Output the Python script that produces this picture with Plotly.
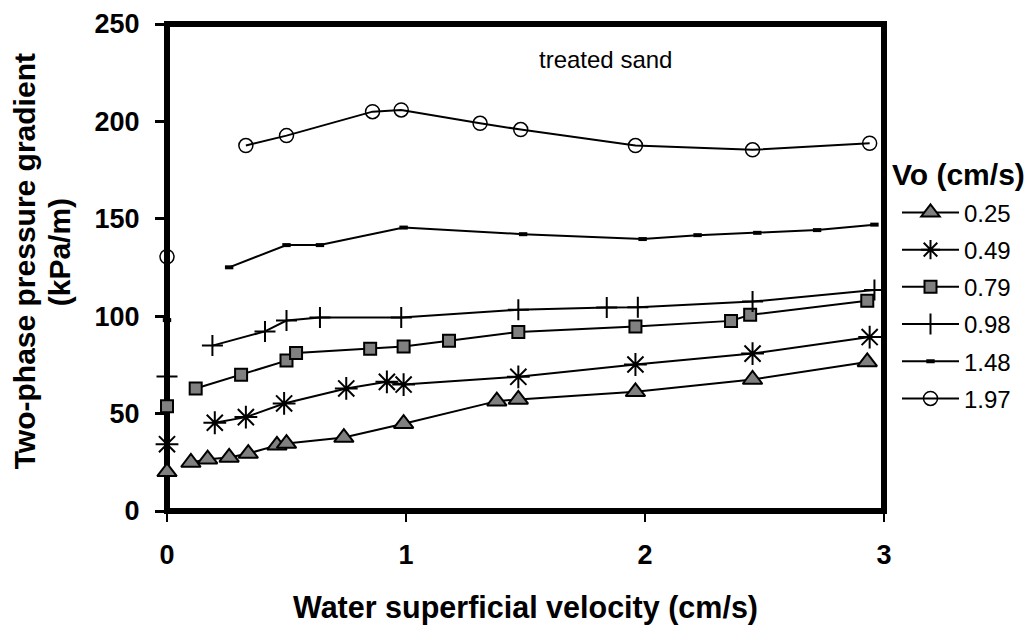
import plotly.graph_objects as go

# ---------------- data ----------------
vo_labels = ["0.25", "0.49", "0.79", "0.98", "1.48", "1.97"]

# value at zero water velocity (plotted unconnected)
y_at_zero = [20.1, 34.3, 53.8, 69.0, 98.0, 130.5]

x_025 = [0.10, 0.17, 0.26, 0.34, 0.46, 0.50, 0.74, 0.99, 1.38, 1.47, 1.96, 2.45, 2.93]
y_025 = [24.9, 26.6, 27.5, 29.5, 33.7, 34.6, 37.7, 44.8, 56.4, 57.3, 61.2, 67.5, 76.5]

x_049 = [0.20, 0.33, 0.49, 0.75, 0.92, 0.99, 1.47, 1.96, 2.45, 2.94]
y_049 = [45.3, 48.2, 55.2, 62.9, 66.3, 64.9, 68.9, 75.2, 80.8, 89.3]

x_079 = [0.12, 0.31, 0.50, 0.54, 0.85, 0.99, 1.18, 1.47, 1.96, 2.36, 2.44, 2.93]
y_079 = [62.9, 70.0, 77.2, 81.1, 83.3, 84.5, 87.4, 91.9, 94.7, 97.6, 100.7, 107.9]

x_098 = [0.19, 0.41, 0.50, 0.64, 0.98, 1.47, 1.84, 1.97, 2.45, 2.96]
y_098 = [84.9, 92.2, 97.8, 99.3, 99.3, 103.3, 104.5, 104.6, 107.5, 113.5]

x_148 = [0.26, 0.50, 0.64, 0.99, 1.49, 1.99, 2.22, 2.47, 2.72, 2.96]
y_148 = [125.1, 136.5, 136.5, 145.5, 142.1, 139.6, 141.6, 142.8, 144.2, 147.0]

x_197 = [0.33, 0.50, 0.86, 0.98, 1.31, 1.48, 1.96, 2.45, 2.94]
y_197 = [187.6, 192.7, 205.0, 205.9, 199.0, 195.8, 187.6, 185.4, 188.8]

x_ticks = [0, 1, 2, 3]
y_ticks = [0, 50, 100, 150, 200, 250]

series_x = [x_025, x_049, x_079, x_098, x_148, x_197]
series_y = [y_025, y_049, y_079, y_098, y_148, y_197]

# ---------------- styles ----------------
FONT = "Liberation Sans, Arial, sans-serif"
marker_styles = [
    dict(symbol="triangle-up", size=17, color="#808080", line=dict(color="black", width=2)),
    dict(symbol="asterisk-open", size=19, color="black", line=dict(color="black", width=2)),
    dict(symbol="square", size=12, color="#808080", line=dict(color="black", width=2)),
    dict(symbol="cross-thin-open", size=15, color="black", line=dict(color="black", width=2)),
    dict(symbol="line-ew-open", size=6, color="black", line=dict(color="black", width=4)),
    dict(symbol="circle-open", size=14, color="black", line=dict(color="black", width=1.5)),
]

fig = go.Figure()
for i, lab in enumerate(vo_labels):
    xs = [0, None] + series_x[i]
    ys = [y_at_zero[i], None] + series_y[i]
    fig.add_trace(go.Scatter(
        x=xs, y=ys, mode="lines+markers", name=lab,
        legendgroup=lab,
        line=dict(color="black", width=2),
        marker=marker_styles[i],
        connectgaps=False,
        cliponaxis=False,
    ))

# geometry in page pixels (the html body adds an 8px margin)
OFF = 8
L, R, T, B = 167, 884, 23.5, 511
W, H = 1032, 629
pw, ph = R - L, B - T

def px_x(px):
    return (px - L) / pw

def px_y(py):
    return (B - py) / ph

fig.update_layout(
    width=W - OFF, height=H - OFF, autosize=False,
    margin=dict(l=L - OFF, r=W - R, t=T - OFF, b=H - B, pad=0, autoexpand=False),
    paper_bgcolor="white", plot_bgcolor="white",
    font=dict(family=FONT, color="black"),
    showlegend=True,
    legend=dict(
        x=px_x(897), y=px_y(190), xanchor="left", yanchor="top",
        font=dict(size=24, family=FONT),
        bgcolor="rgba(0,0,0,0)",
        tracegroupgap=3,
        itemwidth=57,
        traceorder="grouped",
    ),
    xaxis=dict(
        range=[0, 3], tickvals=x_ticks, ticktext=[str(v) for v in x_ticks],
        showline=False, showgrid=False, zeroline=False, automargin=False,
        ticks="outside", ticklen=10, tickwidth=2, tickcolor="black",
        tickfont=dict(size=27, weight="bold", family=FONT),
        ticklabelstandoff=10,
    ),
    yaxis=dict(
        range=[0, 250], tickvals=y_ticks, ticktext=[str(v) for v in y_ticks],
        showline=False, showgrid=False, zeroline=False, automargin=False,
        ticks="outside", ticklen=11, tickwidth=3, tickcolor="black",
        tickfont=dict(size=27, weight="bold", family=FONT),
        ticklabelstandoff=10,
    ),
    shapes=[dict(
        type="rect", xref="paper", yref="paper", x0=0, x1=1, y0=0, y1=1,
        line=dict(color="black", width=6), fillcolor="rgba(0,0,0,0)", layer="below",
    )],
    annotations=[
        dict(text="Vo (cm/s)", x=px_x(890), y=px_y(174), xref="paper", yref="paper",
             showarrow=False, font=dict(size=30, weight="bold", family=FONT),
             xanchor="left", yanchor="middle"),
        dict(text="treated sand", x=px_x(605), y=px_y(59), xref="paper", yref="paper",
             showarrow=False, font=dict(size=24, family=FONT), xanchor="center", yanchor="middle"),
        dict(text="Water superficial velocity (cm/s)", x=px_x(525), y=px_y(608),
             xref="paper", yref="paper", showarrow=False,
             font=dict(size=30.5, weight="bold", family=FONT), xanchor="center", yanchor="middle"),
        dict(text="Two-phase pressure gradient", x=px_x(24), y=px_y(261),
             xref="paper", yref="paper", showarrow=False, textangle=-90,
             font=dict(size=30, weight="bold", family=FONT), xanchor="center", yanchor="middle"),
        dict(text="(kPa/m)", x=px_x(59), y=px_y(252),
             xref="paper", yref="paper", showarrow=False, textangle=-90,
             font=dict(size=30, weight="bold", family=FONT), xanchor="center", yanchor="middle"),
    ],
)

fig.write_html("out.html")
